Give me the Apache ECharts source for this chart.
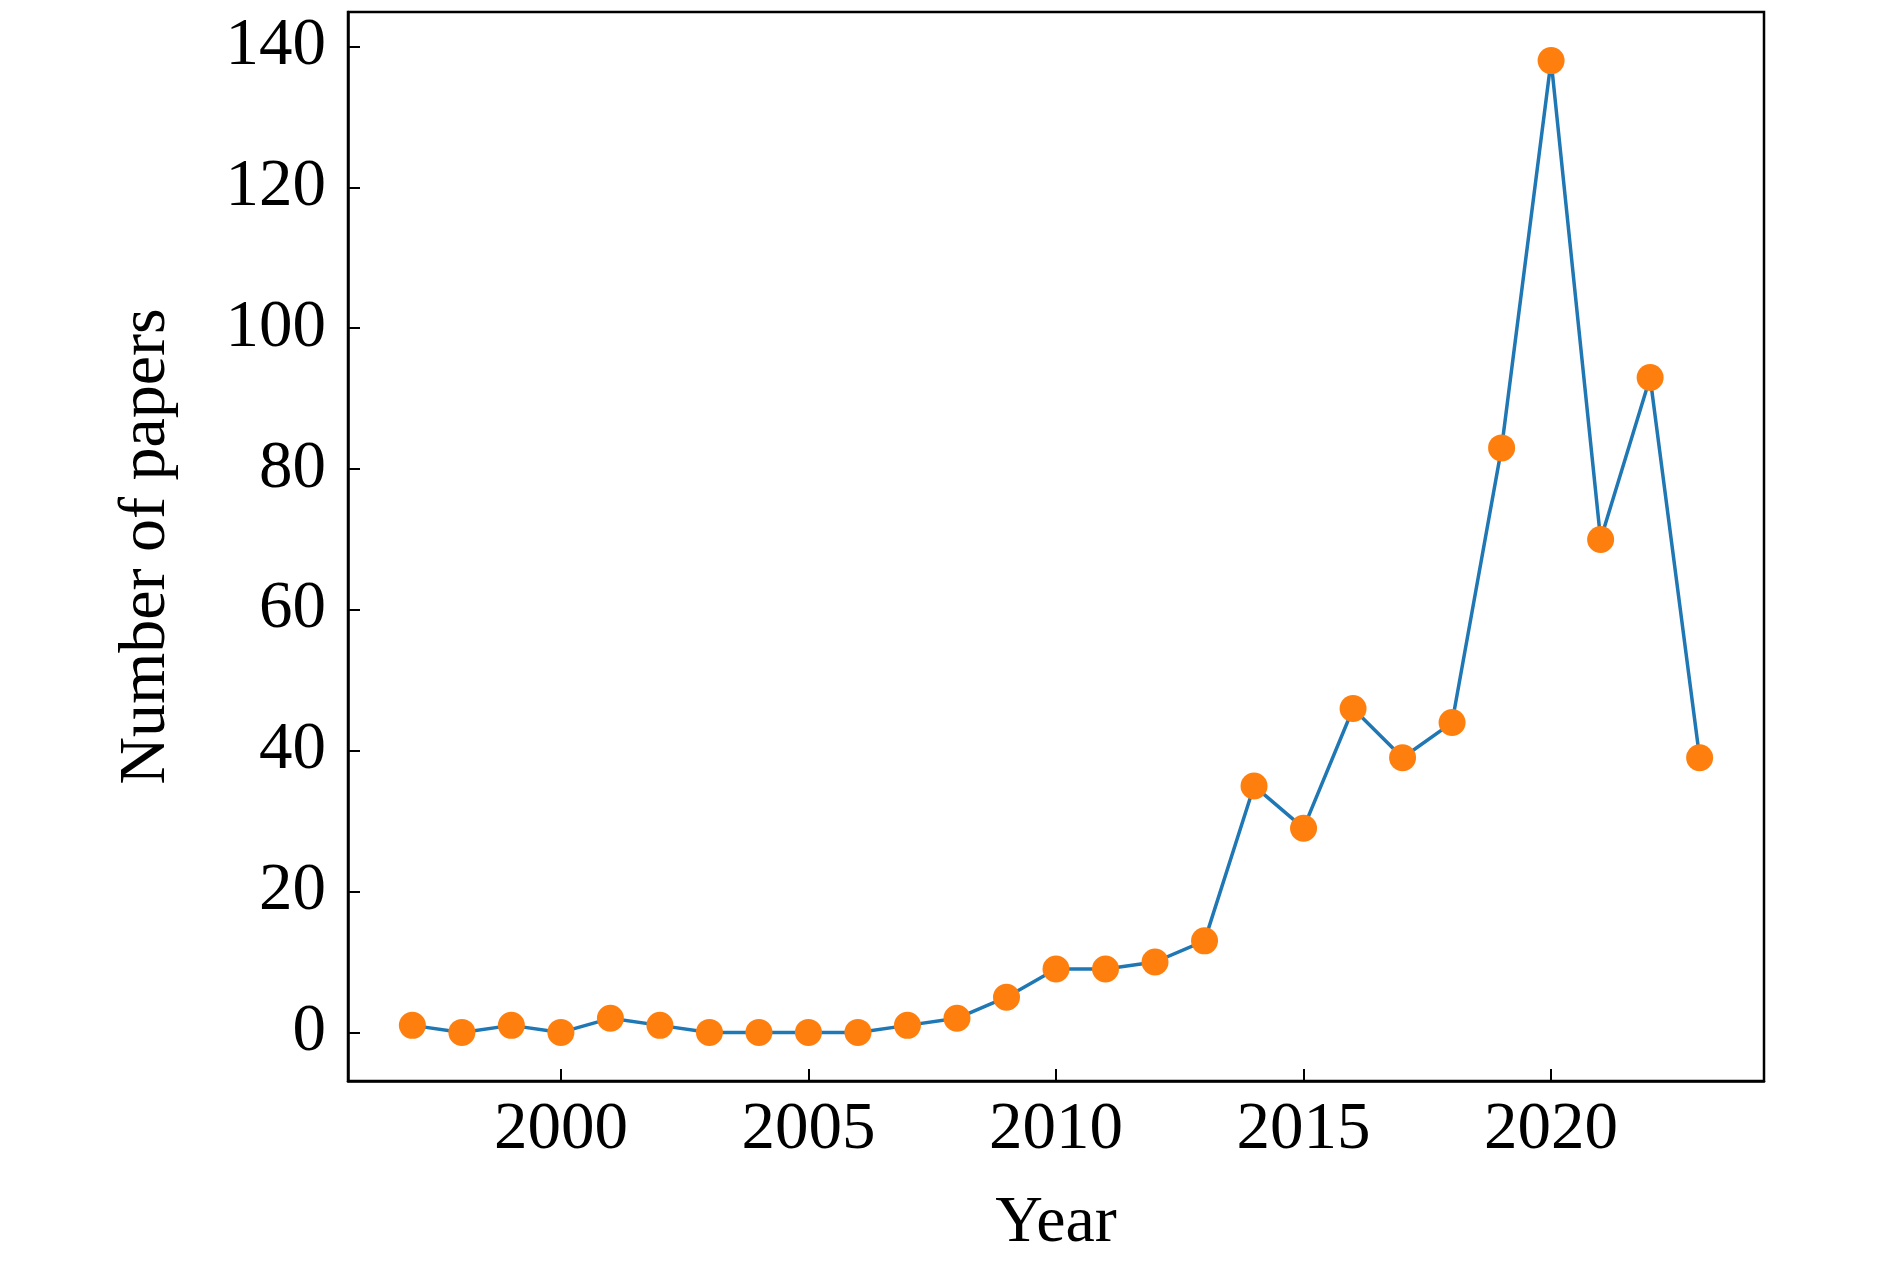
<!DOCTYPE html>
<html><head><meta charset="utf-8">
<script src="https://cdn.jsdelivr.net/npm/echarts@6/dist/echarts.min.js"></script>
<style>html,body{margin:0;padding:0;background:#fff}#c{width:1890px;height:1266px}</style>
</head><body><div id="c"></div>
<script>
const years = [1997,1998,1999,2000,2001,2002,2003,2004,2005,2006,2007,2008,2009,2010,2011,2012,2013,2014,2015,2016,2017,2018,2019,2020,2021,2022,2023];
const papers = [1,0,1,0,2,1,0,0,0,0,1,2,5,9,9,10,13,35,29,46,39,44,83,138,70,93,39];
const xTicks = [2000,2005,2010,2015,2020];
const yTicks = [0,20,40,60,80,100,120,140];

const font = 'Liberation Serif';
const chart = echarts.init(document.getElementById('c'), null, {renderer:'canvas'});
chart.setOption({
  animation:false,
  backgroundColor:'#fff',
  grid:{left:348,right:126,top:12,bottom:185,show:true,borderColor:'#000',borderWidth:2.5,backgroundColor:'transparent'},
  xAxis:{
    type:'value', min:1995.7, max:2024.3,
    name:'Year', nameLocation:'middle', nameGap:110,
    nameTextStyle:{fontFamily:font,fontSize:66,color:'#000'},
    axisLine:{show:true,onZero:false,lineStyle:{color:'#000',width:2.5}},
    axisTick:{show:true,inside:true,length:12,lineStyle:{color:'#000',width:2},customValues:xTicks},
    axisLabel:{show:true,margin:16,fontFamily:font,fontSize:67,color:'#000',customValues:xTicks,formatter:v=>String(v)},
    splitLine:{show:false}
  },
  yAxis:{
    type:'value', min:-6.9, max:144.9,
    name:'Number of papers', nameLocation:'middle', nameGap:168,
    nameTextStyle:{fontFamily:font,fontSize:66,color:'#000'},
    axisLine:{show:true,onZero:false,lineStyle:{color:'#000',width:2.5}},
    axisTick:{show:true,inside:true,length:12,lineStyle:{color:'#000',width:2},customValues:yTicks},
    axisLabel:{show:true,margin:22,fontFamily:font,fontSize:67,color:'#000',customValues:yTicks,formatter:v=>String(v)},
    splitLine:{show:false}
  },
  series:[{
    type:'line',
    data:years.map((y,i)=>[y,papers[i]]),
    lineStyle:{color:'#1f77b4',width:3.5},
    symbol:'circle', symbolSize:27,
    itemStyle:{color:'#ff7f0e',borderWidth:0},
    showAllSymbol:true
  }]
});
</script></body></html>
